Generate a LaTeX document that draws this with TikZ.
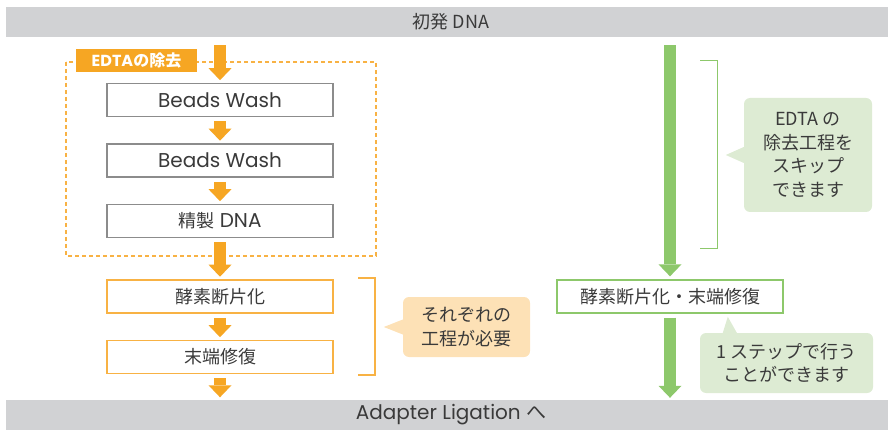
\documentclass[tikz,border=0pt]{standalone}
\usepackage{fontspec}
\setmainfont{Poppins}
\newfontfamily\jp{Noto Sans CJK JP}
\usetikzlibrary{arrows.meta}
\definecolor{bandgray}{HTML}{D1D2D4}
\definecolor{inkgray}{HTML}{3A3A3A}
\definecolor{boxgray}{HTML}{8C8C8C}
\definecolor{ora}{HTML}{F6A623}
\definecolor{oraline}{HTML}{F8B244}
\definecolor{orafill}{HTML}{FDE1B6}
\definecolor{grn}{HTML}{8DC86B}
\definecolor{grnfill}{HTML}{DDEBD3}
\begin{document}
\begin{tikzpicture}[x=1pt, y=-1pt, every node/.style={font=\fontsize{20}{24}\selectfont, text=inkgray},
  jptext/.style={font=\fontsize{18}{24}\jp},
  band/.style={fill=bandgray, minimum width=890pt, minimum height=30pt, inner sep=0pt},
  wash/.style={draw=boxgray, line width=1.6pt, fill=white, minimum width=226pt, minimum height=33pt, inner sep=0pt},
  orabox/.style={wash, draw=oraline},
  grnbox/.style={wash, draw=grn, line width=1.3pt},
  note/.style={rounded corners=6pt, align=center, inner sep=0pt},
  orarrow/.style={draw=ora, line width=12pt, -{Triangle[width=23pt, length=12pt, line width=0pt]}, shorten <=4pt, shorten >=2.5pt},
  grnarrow/.style={orarrow, draw=grn}]
  \useasboundingbox (0,0) rectangle (888,430);
  \node[band, jptext] (dna) at (451,22) {初発 DNA};
  \node[band] (ligation) at (451,415) {Adapter Ligation {\jp へ}};
  % EDTA removal block
  \draw[oraline, line width=1.5pt, dash pattern=on 4pt off 3pt] (66,62) rectangle (376,256);
  \node[fill=ora, text=white, font=\fontsize{16}{20}\bfseries, minimum width=121pt, minimum height=23pt, inner sep=0pt] (tab) at (136.5,60.5) {EDTA{\jp の除去}};
  \node[wash] (wash1) at (220,100) {Beads Wash};
  \node[wash] (wash2) at (220,160.5) {Beads Wash};
  \node[wash] (pure) at (220,221) {{\fontsize{18}{24}\jp 精製} DNA};
  \node[orabox, jptext] (frag) at (220,296.5) {酵素断片化};
  \node[orabox, jptext] (repair) at (220,357) {末端修復};
  \draw[orarrow, shorten <=8pt] (dna.south -| wash1) -- (wash1);
  \draw[orarrow] (wash1) -- (wash2);
  \draw[orarrow] (wash2) -- (pure);
  \draw[orarrow] (pure) -- (frag);
  \draw[orarrow] (frag) -- (repair);
  \draw[orarrow] (repair) -- (ligation.north -| repair);
  \draw[oraline, line width=1.5pt] (358,278) -- (375,278) -- (375,375) -- (358,375);
  \node[note, jptext, fill=orafill, minimum width=127pt, minimum height=60pt] (need) at (466.5,327) {それぞれの\\工程が必要};
  \fill[orafill] ([yshift=7.5pt]need.west) -- ([xshift=-19pt]need.west) -- ([yshift=-7.5pt]need.west) -- cycle;
  % one-step route
  \node[grnbox, jptext] (onestep) at (670,296.5) {酵素断片化・末端修復};
  \draw[grnarrow, shorten <=8pt, shorten >=3pt] (dna.south -| onestep) -- (onestep);
  \draw[grnarrow, shorten >=2pt] (onestep) -- (ligation.north -| onestep);
  \draw[grn, line width=1pt] (700,61) -- (717,61) -- (717,249) -- (700,249);
  \node[note, jptext, fill=grnfill, minimum width=128pt, minimum height=114pt, font=\fontsize{18}{23.5}\jp] (skip) at (808,155) {EDTA の\\除去工程を\\スキップ\\できます};
  \fill[grnfill] ([yshift=8pt]skip.west) -- ([xshift=-18pt]skip.west) -- ([yshift=-8pt]skip.west) -- cycle;
  \node[note, jptext, fill=grnfill, minimum width=173pt, minimum height=60pt, font=\fontsize{18}{23}\jp] (once) at (786.5,363) {1 ステップで行う\\ことができます};
  \fill[grnfill] ([xshift=23pt]once.north west) -- ([xshift=28pt, yshift=16pt]once.north west) -- ([xshift=37pt]once.north west) -- cycle;
\end{tikzpicture}
\end{document}
